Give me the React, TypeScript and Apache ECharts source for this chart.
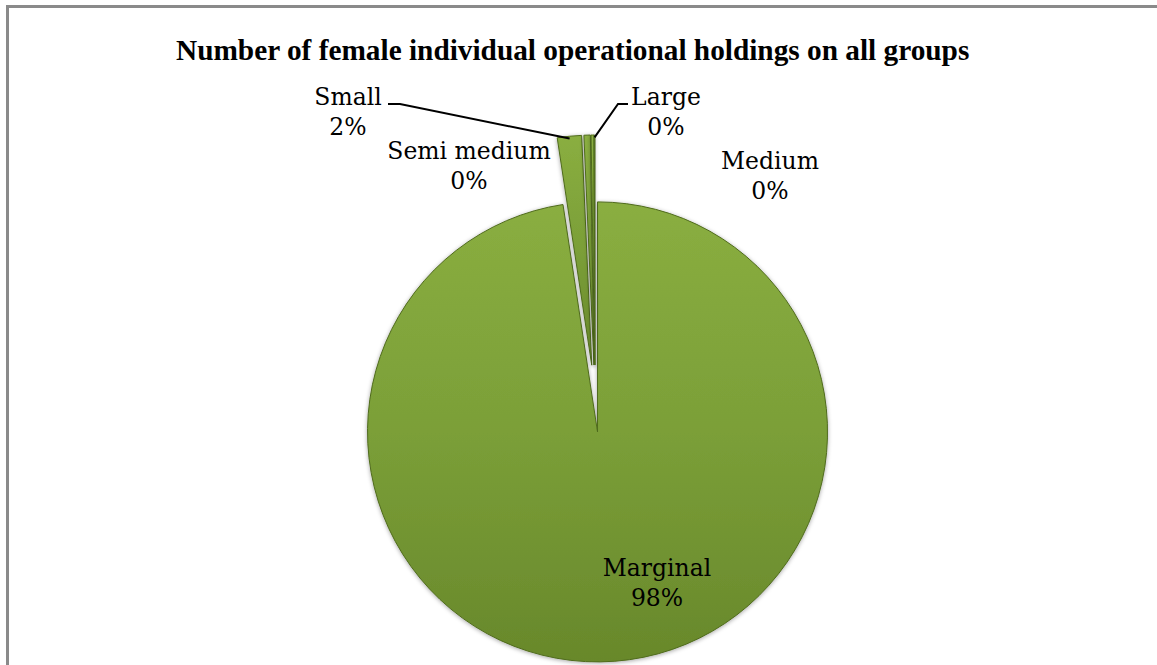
import React, { useEffect, useRef } from "react";
import * as echarts from "echarts";

const titleText = "Number of female individual operational holdings on all groups";
const categories = ["Marginal", "Small", "Semi medium", "Medium", "Large"];
const shares = [97.6, 1.7, 0.45, 0.2, 0.05];

// layout only: centre of each label block, and elbow of its leader line
const labelPos: Record<string, [number, number]> = {
  Marginal: [657, 583],
  Small: [348, 112],
  "Semi medium": [469, 166],
  Medium: [770, 176],
  Large: [666, 112],
};
const leaderElbow: Record<string, [number, number][]> = {
  Small: [
    [400, 104],
    [388, 104],
  ],
  Large: [
    [618, 104],
    [628, 104],
  ],
};

const CX = 595;
const CY = 398.5;
const R = 230;
const OFFSET = 33.5;

export default function App() {
  const ref = useRef<HTMLDivElement>(null);
  useEffect(() => {
    if (!ref.current) return;
    const chart = echarts.init(ref.current, null, { renderer: "svg" });
    const total = shares.reduce((a, b) => a + b, 0);
    // bisector angle (clockwise from 12 o'clock) of each slice
    let acc = 0;
    const mids = shares.map((v) => {
      const a = ((acc + v / 2) / total) * Math.PI * 2;
      acc += v;
      return a;
    });
    const anchor = (i: number) => {
      const a = mids[i];
      const sx = Math.sin(a);
      const sy = -Math.cos(a);
      return [CX + sx * (OFFSET + R * 0.99), CY + sy * (OFFSET + R * 0.99)];
    };

    const green = {
      type: "linear",
      x: 0,
      y: 0,
      x2: 0,
      y2: 1,
      colorStops: [
        { offset: 0, color: "#8aae40" },
        { offset: 0.5, color: "#7b9f38" },
        { offset: 1, color: "#68882b" },
      ],
    };
    const itemStyle = {
      color: green,
      borderColor: "#4f6b1c",
      borderWidth: 1,
      shadowBlur: 4,
      shadowColor: "rgba(0,0,0,0.35)",
      shadowOffsetX: 0,
      shadowOffsetY: 1,
    };

    const graphics: any[] = [
      {
        type: "rect",
        shape: { x: 7.5, y: 6.5, width: 1200, height: 700 },
        style: { fill: "none", stroke: "#8a8a8a", lineWidth: 3 },
        silent: true,
      },
    ];
    categories.forEach((name, i) => {
      const pct = Math.round((shares[i] / total) * 100);
      const [x, y] = labelPos[name];
      graphics.push({
        type: "text",
        x,
        y,
        z: 100,
        silent: true,
        style: {
          text: `${name}\n${pct}%`,
          fontFamily: "DejaVu Serif",
          fontSize: 23.5,
          lineHeight: 30,
          fill: "#000",
          textAlign: "center",
          textVerticalAlign: "middle",
          align: "center",
          verticalAlign: "middle",
        },
      });
      if (leaderElbow[name]) {
        graphics.push({
          type: "polyline",
          z: 100,
          silent: true,
          shape: { points: [anchor(i), ...leaderElbow[name]] },
          style: { stroke: "#000", lineWidth: 2, fill: "none" },
        });
      }
    });

    chart.setOption({
      animation: false,
      backgroundColor: "#ffffff",
      title: {
        text: titleText,
        left: 171,
        top: 30,
        textStyle: {
          fontFamily: "Liberation Serif",
          fontWeight: "bold",
          fontSize: 29.3,
          color: "#000",
        },
      },
      graphic: graphics,
      series: [
        {
          type: "pie",
          center: [CX, CY],
          radius: [0, R],
          startAngle: 90,
          clockwise: true,
          avoidLabelOverlap: false,
          selectedMode: "multiple",
          selectedOffset: OFFSET,
          emphasis: { disabled: true },
          select: { itemStyle },
          itemStyle,
          label: { show: false },
          labelLine: { show: false },
          data: categories.map((name, i) => ({
            name,
            value: shares[i],
            selected: true,
          })),
        },
      ],
    });
    return () => chart.dispose();
  }, []);
  return (
    <div
      ref={ref}
      style={{ position: "absolute", left: 0, top: 0, width: 1157, height: 665 }}
    />
  );
}
